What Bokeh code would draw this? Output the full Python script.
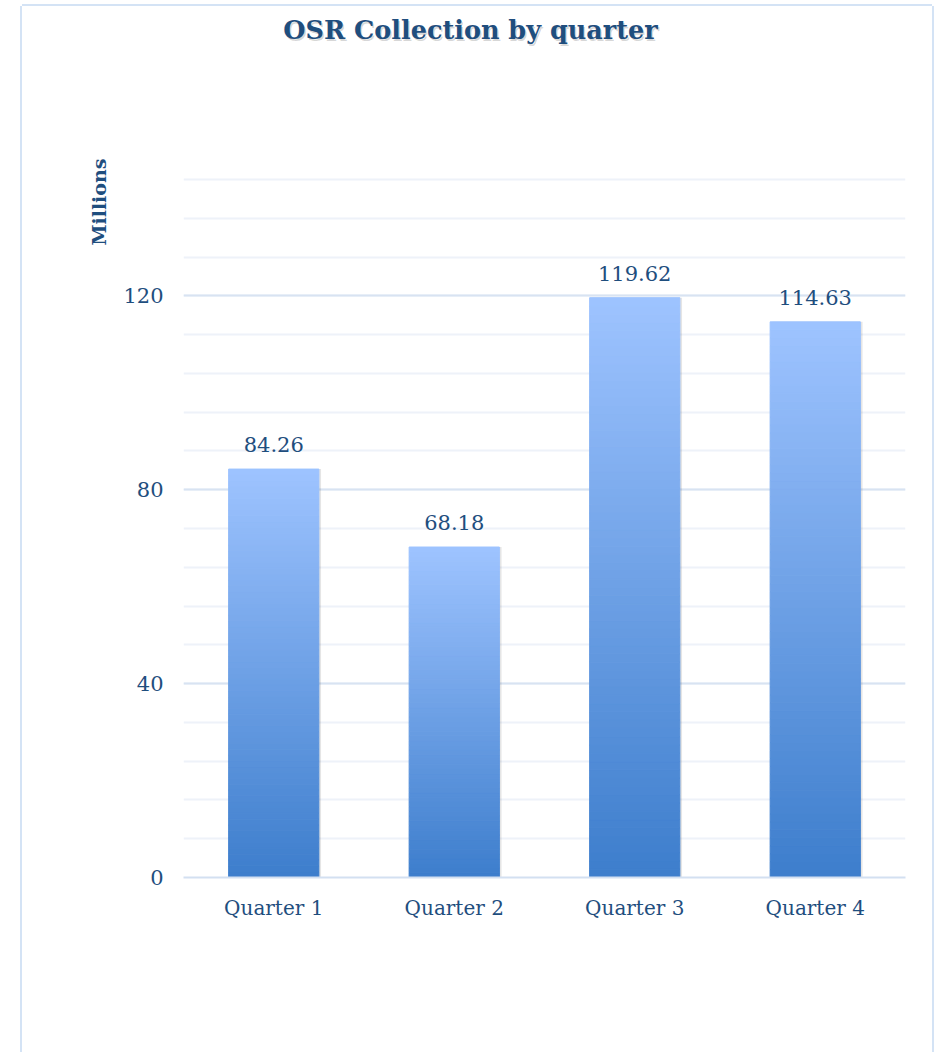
from bokeh.plotting import figure
from bokeh.models import (ColumnDataSource, LabelSet, Label, FixedTicker, Title,
                          Range1d, FactorRange)
from bokeh.transform import dodge
from bokeh.core.properties import value
from bokeh.embed import file_html
from bokeh.resources import INLINE

# ---- data ----
quarters = ["Quarter 1", "Quarter 2", "Quarter 3", "Quarter 4"]
collections = [84.26, 68.18, 119.62, 114.63]
y_major_ticks = [0, 40, 80, 120]
y_minor_ticks = [0, 8, 16, 24, 32, 40, 48, 56, 64, 72, 80, 88, 96, 104, 112, 120, 128, 136, 144]
title_text = "OSR Collection by quarter"
unit_text = "Millions"

# ---- style ----
FONT = "DejaVu Serif"
TEXT_COLOR = "#1F4E7E"
TOP_RGB = (158, 196, 255)
BOTTOM_RGB = (61, 125, 204)
N_SLICES = 70

W, H = 910, 1046
ML, MR, MT, MB = 161, 27, 0, 175
PX_PER_UNIT = 4.8472            # vertical scale of the value axis
FH = H - MT - MB
Y_END = FH / PX_PER_UNIT        # frame reaches the top of the canvas
FW = W - ML - MR

def lerp_color(c0, c1, t):
    return "#%02x%02x%02x" % tuple(int(round(a + (b - a) * t)) for a, b in zip(c0, c1))

# gradient slices built from the data values
qs, bots, tops, cols = [], [], [], []
for q, v in zip(quarters, collections):
    for i in range(N_SLICES):
        qs.append(q)
        bots.append(v * i / N_SLICES)
        tops.append(v * (i + 1) / N_SLICES)
        cols.append(lerp_color(BOTTOM_RGB, TOP_RGB, (i + 0.5) / N_SLICES))
grad_src = ColumnDataSource(dict(q=qs, b=bots, t=tops, c=cols))

bar_src = ColumnDataSource(dict(q=quarters, v=collections,
                                lbl=[f"{v:.2f}" for v in collections]))

BORDER = "#D4E3F5"
p = figure(x_range=FactorRange(*quarters), y_range=Range1d(0, Y_END),
           width=W, height=H, output_backend="svg", toolbar_location=None,
           title=None, min_border_left=ML, min_border_right=MR,
           min_border_top=MT, min_border_bottom=MB,
           margin=(6, 0, 0, 22),
           styles={"box-shadow": f"-2px 0 0 0 {BORDER}, 2px 0 0 0 {BORDER}, 0 -2px 0 0 {BORDER}"})
p.background_fill_color = "white"
p.border_fill_color = "white"
p.outline_line_color = None

# soft shadow on right of bars
p.vbar(x=dodge("q", 0.012, range=p.x_range), top="v", width=0.5, source=bar_src,
       fill_color="#000000", fill_alpha=0.10, line_color=None)

# gradient bars
p.vbar(x="q", bottom="b", top="t", width=0.5, source=grad_src,
       fill_color="c", line_color="c", line_width=1)

# value labels
p.add_layout(LabelSet(x="q", y="v", text="lbl", source=bar_src,
                      y_offset=17, text_align="center", text_baseline="bottom",
                      text_font=value(FONT), text_font_size="21px",
                      text_color=TEXT_COLOR))

# axes
p.yaxis.ticker = FixedTicker(ticks=y_major_ticks, minor_ticks=y_minor_ticks)
p.yaxis.axis_line_color = None
p.yaxis.major_tick_line_color = None
p.yaxis.minor_tick_line_color = None
p.yaxis.major_tick_out = 0
p.yaxis.major_tick_in = 0
p.yaxis.minor_tick_out = 0
p.yaxis.major_label_standoff = 20
p.yaxis.major_label_text_font = FONT
p.yaxis.major_label_text_font_size = "21px"
p.yaxis.major_label_text_color = TEXT_COLOR

p.xaxis.axis_line_color = "#D3E0F1"
p.xaxis.axis_line_width = 2
p.xaxis.major_tick_line_color = None
p.xaxis.major_tick_out = 0
p.xaxis.major_tick_in = 0
p.xaxis.major_label_standoff = 18
p.xaxis.major_label_text_font = FONT
p.xaxis.major_label_text_font_size = "20px"
p.xaxis.major_label_text_color = TEXT_COLOR

p.xgrid.grid_line_color = None
p.ygrid.grid_line_color = "#D8E3F2"
p.ygrid.grid_line_width = 2
p.ygrid.minor_grid_line_color = "#EEF2F9"
p.ygrid.minor_grid_line_width = 2
p.ygrid.level = "underlay"

# title (inside the tall frame, above the grid), with a faint shadow
def dx(cx):
    return (cx - ML) / FW * len(quarters)
def dy(cy):
    return (H - MB - cy) / PX_PER_UNIT

TX, TY = dx(448), dy(23)
p.add_layout(Label(x=TX, y=TY, text=title_text, x_offset=1.5, y_offset=-2,
                   text_align="center", text_baseline="middle",
                   text_font=FONT, text_font_style="bold",
                   text_font_size="25.5px", text_color="#000000", text_alpha=0.16))
p.add_layout(Label(x=TX, y=TY, text=title_text,
                   text_align="center", text_baseline="middle",
                   text_font=FONT, text_font_style="bold",
                   text_font_size="25.5px", text_color=TEXT_COLOR))

# unit label (vertical, near top of the value axis)
p.add_layout(Title(text=unit_text, align="right", offset=152, standoff=22,
                   text_font=FONT, text_font_style="bold",
                   text_font_size="19px", text_color=TEXT_COLOR), "left")

open("out.html", "w").write(file_html(p, INLINE))
